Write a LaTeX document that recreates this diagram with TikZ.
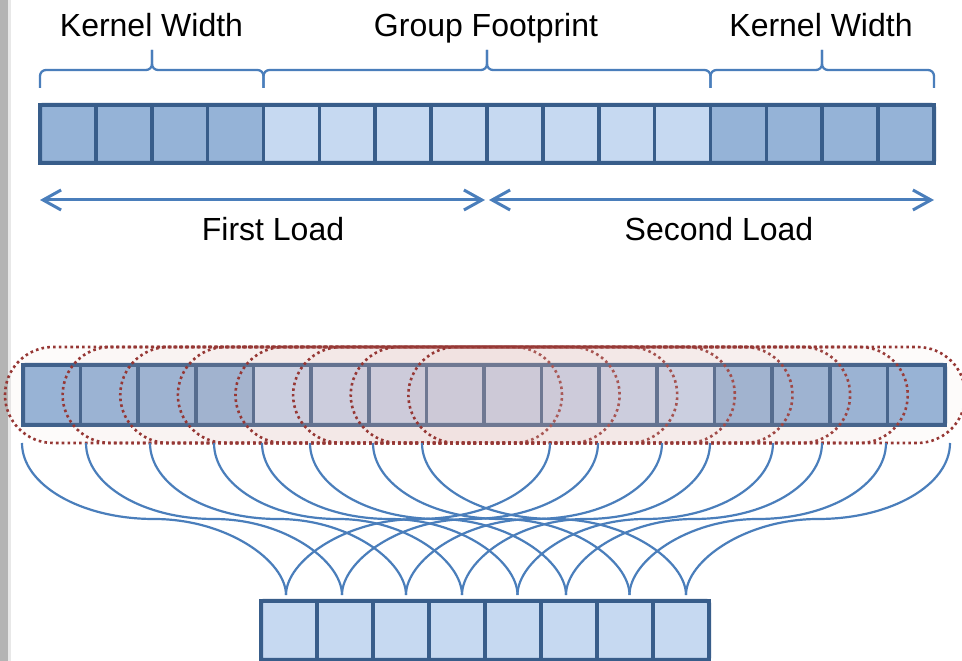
\documentclass[tikz,border=0pt]{standalone}
\usepackage{fontspec}
\setmainfont{Liberation Sans}
\usetikzlibrary{arrows.meta,calc}
\definecolor{cellborder}{RGB}{56,93,138}
\definecolor{celldark}{RGB}{149,179,215}
\definecolor{celllight}{RGB}{198,217,241}
\definecolor{bluelink}{RGB}{74,126,187}
\definecolor{winred}{RGB}{150,55,52}
\definecolor{winfill}{RGB}{224,180,176}
\definecolor{stripgray}{RGB}{180,180,180}
\definecolor{striplight}{RGB}{232,232,232}
\begin{document}
\begin{tikzpicture}[x=1pt,y=1pt,
  cellbox/.style={draw=cellborder, line width=3.6pt, inner sep=0pt, outer sep=0pt},
  barframe/.style={draw=cellborder, line width=4pt, rounded corners=2pt},
  bracestyle/.style={draw=bluelink, line width=2.3pt, rounded corners=6pt},
  loadarrow/.style={draw=bluelink, line width=3pt, {Straight Barb[length=18pt,width=20pt]}-{Straight Barb[length=18pt,width=20pt]}},
  txt/.style={font=\fontsize{32}{38}\selectfont, anchor=base, inner sep=0pt},
  winshape/.style={draw=winred, line width=2.6pt, fill=winfill, fill opacity=0.05, rounded corners=48pt},
  linkcurve/.style={draw=bluelink, line width=2.2pt}
]
\useasboundingbox (0,0) rectangle (962,661);
\fill[white] (0,0) rectangle (962,661);
\fill[stripgray] (0,0) rectangle (8,661);
\fill[striplight] (8,0) rectangle (10.5,661);

% top bar
\foreach \i in {0,...,15} {
  \pgfmathsetmacro\cx{40+55.875*(\i+0.5)}
  \ifnum\i<4 \def\cf{celldark}\else\ifnum\i>11 \def\cf{celldark}\else\def\cf{celllight}\fi\fi
  \node[cellbox, fill=\cf, minimum width=55.875pt, minimum height=58pt] (t\i) at (\cx,527) {};
}
\draw[barframe] (t0.south west) rectangle (t15.north east);

% braces
\draw[bracestyle] (40,573) -- (40,591) -- (152,591) -- (152,611);
\draw[bracestyle] (263.5,573) -- (263.5,591) -- (152,591) -- (152,611);
\draw[bracestyle] (263.5,573) -- (263.5,591) -- (487,591) -- (487,611);
\draw[bracestyle] (710.5,573) -- (710.5,591) -- (487,591) -- (487,611);
\draw[bracestyle] (710.5,573) -- (710.5,591) -- (822,591) -- (822,611);
\draw[bracestyle] (934,573) -- (934,591) -- (822,591) -- (822,611);

\node[txt] (kw1) at (151.5,624.5) {Kernel Width};
\node[txt] (gf) at (486,624.5) {Group Footprint};
\node[txt] (kw2) at (821,624.5) {Kernel Width};

% load arrows
\coordinate (fla) at (40,461);
\coordinate (flb) at (485,461);
\coordinate (sla) at (489,461);
\coordinate (slb) at (934,461);
\draw[loadarrow] (fla) -- (flb);
\draw[loadarrow] (sla) -- (slb);
\node[txt] (fl) at (273,420.3) {First Load};
\node[txt] (sl) at (719,420.3) {Second Load};

% middle bar
\foreach \i in {0,...,15} {
  \pgfmathsetmacro\cx{23+57.625*(\i+0.5)}
  \ifnum\i<4 \def\cf{celldark}\else\ifnum\i>11 \def\cf{celldark}\else\def\cf{celllight}\fi\fi
  \node[cellbox, fill=\cf, minimum width=57.625pt, minimum height=60pt] (m\i) at (\cx,266) {};
}
\draw[barframe] (m0.south west) rectangle (m15.north east);

% windows
\foreach \i in {0,...,7} {
  \pgfmathsetmacro\ph{0.35*\i}
  \path[winshape, dash pattern=on 2.6pt off 3.2pt, dash phase=\ph pt] (5+57.625*\i,218) rectangle (562+57.625*\i,314);
}

% output bar
\foreach \i in {0,...,7} {
  \node[cellbox, fill=celllight, minimum width=56pt, minimum height=59pt] (o\i) at (261+56*\i+28,30.5) {};
}
\draw[barframe] (o0.south west) rectangle (o7.north east);

% curves
\foreach \s/\e [count=\j] in {22/286, 86/342, 150/406, 214/462, 262/517.5, 310/566, 373/629.5, 422/686, 550/286, 598/342, 662/406, 710/462, 773/517.5, 822/566, 886/629.5, 950/686} {
  \pgfmathsetmacro\d{(\e-\s)/2}
  \pgfmathsetmacro\m{\s+\d}
  \pgfmathsetmacro\ca{\s+0.4477*\d}
  \pgfmathsetmacro\cb{\m+0.5523*\d}
  \coordinate (src\j) at (\s,218);
  \coordinate (dst\j) at (\e,66);
  \draw[linkcurve] (src\j) .. controls (\s,176) and (\ca,142) .. (\m,142) .. controls (\cb,142) and (\e,100) .. (dst\j);
}
\end{tikzpicture}
\end{document}
